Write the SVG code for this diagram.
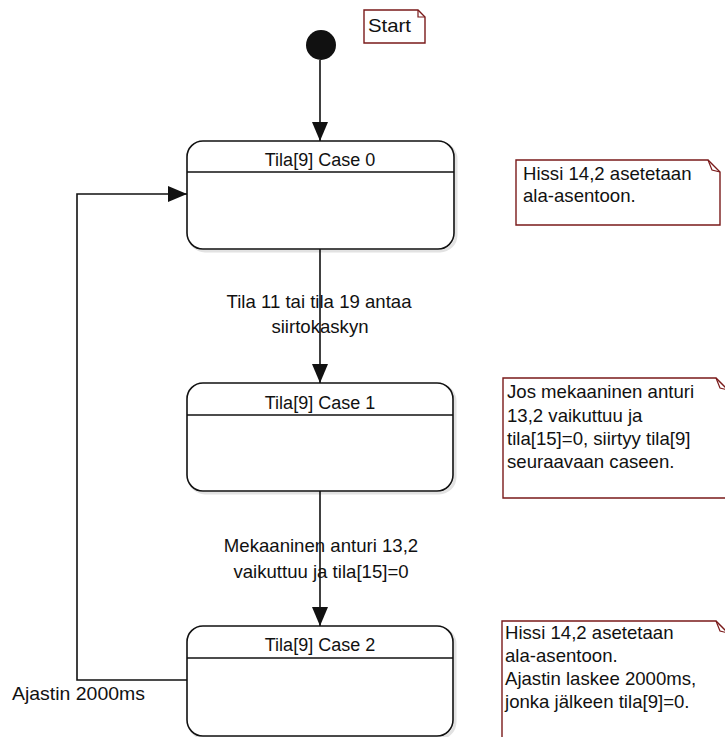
<svg xmlns="http://www.w3.org/2000/svg" width="725" height="737" viewBox="0 0 725 737">
  <style>
    .lbl { font-family: "Liberation Sans", Arial, sans-serif; font-size: 18.6px; fill: #111; }
    .ttl { font-size: 18px; }
    .mid { text-anchor: middle; }
    .state { fill: #fff; stroke: #111; stroke-width: 1.6; }
    .shadow { fill: none; stroke: #e2e2e2; stroke-width: 3; }
    .sep { stroke: #111; stroke-width: 1.6; }
    .note { fill: #fff; stroke: #7a1a1a; stroke-width: 1.4; }
    .fold { fill: none; stroke: #7a1a1a; stroke-width: 1.2; }
    .edge { fill: none; stroke: #111; stroke-width: 1.6; }
  </style>
  <defs>
    <marker id="arrow" markerUnits="userSpaceOnUse" markerWidth="20" markerHeight="16" refX="19" refY="8" orient="auto">
      <path d="M0,0 L19,8 L0,16 Z" fill="#111"/>
    </marker>
  </defs>

  <rect width="725" height="737" fill="#fff"/>

  <!-- initial pseudo-state -->
  <g id="start">
    <circle cx="321" cy="45" r="15" fill="#111"/>
  </g>

  <!-- notes -->
  <g id="note-start">
    <path class="note" d="M364,10 H418 L425,17 V43 H364 Z"/>
    <path class="fold" d="M418,10 V17 H425"/>
    <text class="lbl" x="368" y="32" textLength="43" lengthAdjust="spacingAndGlyphs">Start</text>
  </g>

  <g id="note-case0">
    <path class="note" d="M516,160 H708 L720,172 V225 H516 Z"/>
    <path class="fold" d="M708,160 L712,170 L720,172"/>
    <text class="lbl" x="523" y="180">Hissi 14,2 asetetaan</text>
    <text class="lbl" x="523" y="202">ala-asentoon.</text>
  </g>

  <g id="note-case1">
    <path class="note" d="M503,378 H716 L728,390 V498 H503 Z"/>
    <path class="fold" d="M716,378 L720,388 L728,390"/>
    <text class="lbl" x="507" y="398">Jos mekaaninen anturi</text>
    <text class="lbl" x="507" y="422">13,2 vaikuttuu ja</text>
    <text class="lbl" x="507" y="445">tila[15]=0, siirtyy tila[9]</text>
    <text class="lbl" x="507" y="468">seuraavaan caseen.</text>
  </g>

  <g id="note-case2">
    <path class="note" d="M502,621 H716 L728,633 V745 H502 Z"/>
    <path class="fold" d="M716,621 L720,631 L728,633"/>
    <text class="lbl" x="505" y="639">Hissi 14,2 asetetaan</text>
    <text class="lbl" x="505" y="662">ala-asentoon.</text>
    <text class="lbl" x="505" y="685">Ajastin laskee 2000ms,</text>
    <text class="lbl" x="505" y="708">jonka jälkeen tila[9]=0.</text>
  </g>

  <!-- states -->
  <g id="case0">
    <rect class="shadow" x="189" y="143" width="267" height="108" rx="16"/>
    <rect class="state" x="187" y="141" width="267" height="108" rx="16"/>
    <line class="sep" x1="187" y1="172" x2="454" y2="172"/>
    <text class="lbl ttl mid" x="320" y="166">Tila[9] Case 0</text>
  </g>

  <g id="case1">
    <rect class="shadow" x="189" y="385" width="266" height="108" rx="16"/>
    <rect class="state" x="187" y="383" width="266" height="108" rx="16"/>
    <line class="sep" x1="187" y1="415" x2="453" y2="415"/>
    <text class="lbl ttl mid" x="320" y="409">Tila[9] Case 1</text>
  </g>

  <g id="case2">
    <rect class="shadow" x="189" y="628" width="266" height="110" rx="16"/>
    <rect class="state" x="187" y="626" width="266" height="110" rx="16"/>
    <line class="sep" x1="187" y1="658" x2="453" y2="658"/>
    <text class="lbl ttl mid" x="320" y="651">Tila[9] Case 2</text>
  </g>

  <!-- transitions -->
  <g id="connectors">
    <text class="lbl mid" x="319" y="308">Tila 11 tai tila 19 antaa</text>
    <text class="lbl mid" x="320" y="333">siirtokaskyn</text>
    <text class="lbl mid" x="321" y="552">Mekaaninen anturi 13,2</text>
    <text class="lbl mid" x="321" y="578">vaikuttuu ja tila[15]=0</text>
    <text class="lbl" x="12" y="700" textLength="133" lengthAdjust="spacingAndGlyphs">Ajastin 2000ms</text>

    <path class="edge" d="M320,60 V141" marker-end="url(#arrow)"/>
    <path class="edge" d="M320,249 V383" marker-end="url(#arrow)"/>
    <path class="edge" d="M320,491 V626" marker-end="url(#arrow)"/>
    <path class="edge" d="M187,680 H77 V194 H187" marker-end="url(#arrow)"/>
  </g>
</svg>
